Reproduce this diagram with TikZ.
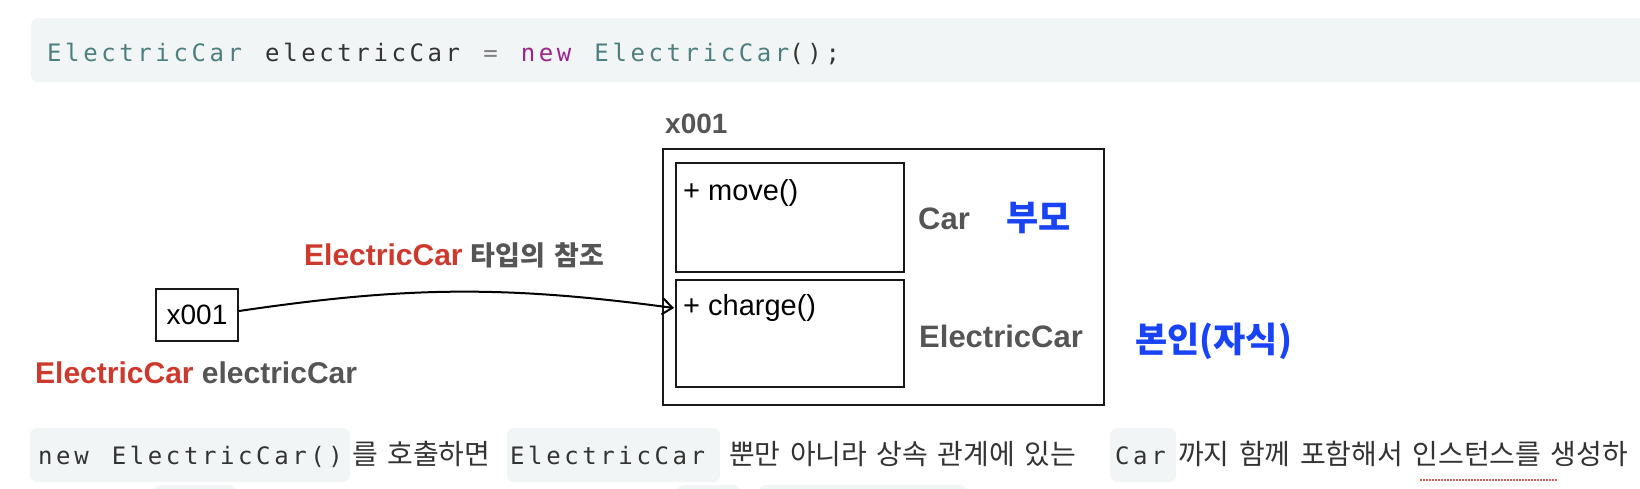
\documentclass[tikz,border=0pt]{standalone}
\usepackage{fontspec}
\setmainfont{Liberation Sans}
\newfontfamily\codefont[LetterSpace=15,WordSpace=1.28]{DejaVu Sans Mono}
\newfontfamily\kofont{Noto Sans CJK KR}
\newfontfamily\prosefont[WordSpace=1.5]{Noto Sans CJK KR}
\usetikzlibrary{positioning,calc,arrows.meta}
\definecolor{codeTeal}{HTML}{4E7F7F}
\definecolor{codeInk}{HTML}{333333}
\definecolor{codeNew}{HTML}{9A2590}
\definecolor{codeBg}{HTML}{F2F5F5}
\definecolor{refRed}{HTML}{CD3A2D}
\definecolor{labGray}{HTML}{555555}
\definecolor{koBlue}{HTML}{1843F6}

\tikzset{
  membox/.style={draw=black!90,line width=2pt,inner sep=0pt},
  txt/.style={anchor=base west,inner sep=0pt},
  method/.style={txt,font=\fontsize{29}{34}\selectfont},
  classlab/.style={txt,text=labGray,font=\bfseries\fontsize{31}{36}\selectfont},
  role/.style={txt,text=koBlue,font=\kofont\bfseries\fontsize{35}{40}\selectfont},
  codebg/.style={fill=codeBg,rounded corners=7pt},
  inline/.style={txt,text=codeInk,font=\codefont\fontsize{24}{28}\selectfont},
  prose/.style={txt,text=codeInk,font=\prosefont\fontsize{28}{32}\selectfont},
}

\begin{document}
\begin{tikzpicture}[x=1pt,y=-1pt]
\useasboundingbox (0,0) rectangle (1640,488);
\clip (0,0) rectangle (1640,488);

% code line on top
\fill[codebg] (31,18) rectangle (1690,82);
\node[inline] (codeline) at (47,61) {\textcolor{codeTeal}{ElectricCar} electricCar \textcolor{gray}{=} \textcolor{codeNew}{new} \textcolor{codeTeal}{ElectricCar}();};

% instance x001
\node[membox,line width=2.4pt,minimum width=441pt,minimum height=256pt] (heap) at (883.5,277) {};
\node[txt,text=labGray,font=\bfseries\fontsize{28}{32}\selectfont] (heapaddr) at (665,133) {x001};
\node[membox,minimum width=228pt,minimum height=109pt] (carbox) at (790,217.5) {};
\node[membox,minimum width=228pt,minimum height=107pt] (ecarbox) at (790,333.5) {};
\node[method] (mmove) at (683,200) {+ move()};
\node[method] (mcharge) at (683,315) {+ charge()};
\node[classlab] (carlab) at (918,229) {Car};
\node[classlab] (ecarlab) at (919,347) {ElectricCar};
\node[role] (parent) at (1006,230) {부모};
\node[role] (self) at (1135,352) {본인(자식)};

% reference variable
\node[membox,minimum width=82pt,minimum height=52pt,font=\fontsize{28}{32}\selectfont] (refbox) at (197,315) {x001};
\node[txt,font=\bfseries\fontsize{30}{34}\selectfont] (varlab) at (35,383) {\textcolor{refRed}{ElectricCar} \textcolor{labGray}{electricCar}};
\node[txt,font=\bfseries\fontsize{30}{34}\selectfont] (reflab) at (304,265) {\textcolor{refRed}{ElectricCar} \textcolor{labGray}{\kofont\fontsize{27}{30}\selectfont 타입의 참조}};
\coordinate (hit) at ($(ecarbox.north west)+(-1,29)$);
\draw[line width=2pt,-{Straight Barb[length=10pt,width=16pt,line width=2pt]}] ($(refbox.east)+(0,-4)$) to[bend left=8] (hit);

% explanation line
\fill[codebg] (30,428) rectangle (350,482);
\fill[codebg] (507,428) rectangle (720,482);
\fill[codebg] (1110,428) rectangle (1176,482);
\foreach \a/\b in {154/236,677/740,758/967}{
  \fill[codebg] (\a,485) rectangle (\b,520);
}
\node[inline] (callnew) at (38,464) {new ElectricCar()};
\node[prose] (say1) at (352,464) {를 호출하면};
\node[inline] (inecar) at (510,464) {ElectricCar};
\node[prose] (say2) at (729,464) {뿐만 아니라 상속 관계에 있는};
\node[inline] (incar) at (1115,464) {Car};
\node[prose] (say3) at (1178,464) {까지 함께 포함해서 인스턴스를 생성하};
\draw[refRed!80,line width=1.5pt,dash pattern=on 1.5pt off 1.5pt] (1420,480) -- (1558,480);
\end{tikzpicture}
\end{document}
